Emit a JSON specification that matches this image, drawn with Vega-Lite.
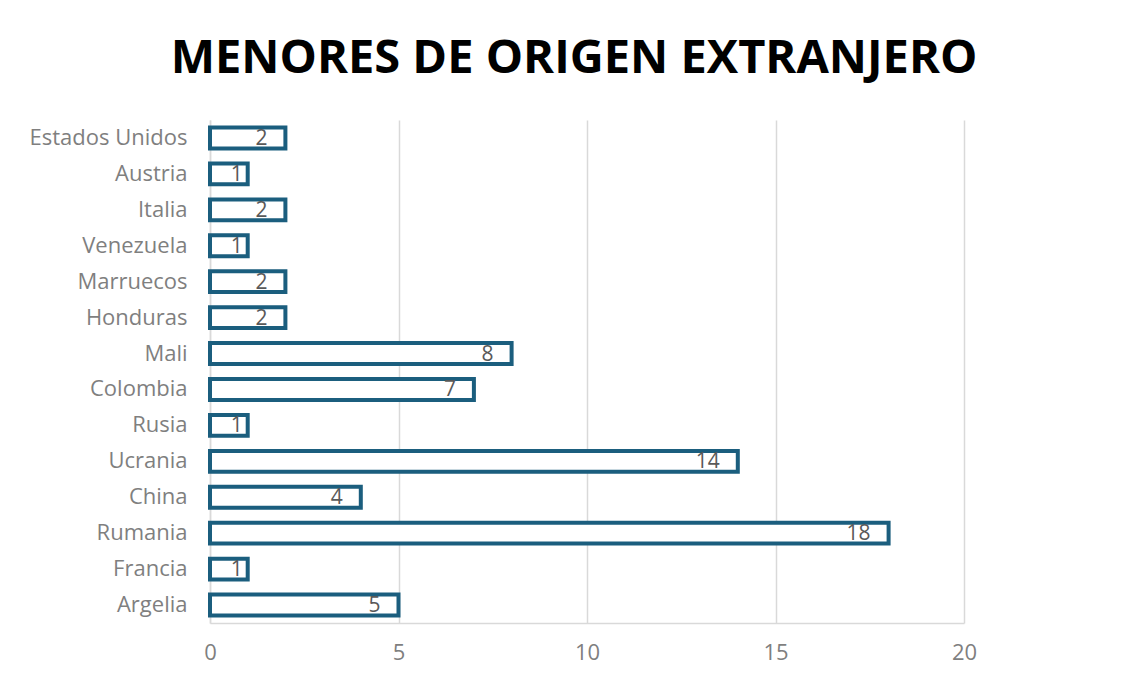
{
  "$schema": "https://vega.github.io/schema/vega-lite/v6.json",
  "width": 754,
  "height": 503,
  "autosize": {"type": "none"},
  "padding": {"left": 210, "top": 120, "right": 167, "bottom": 56},
  "background": "white",
  "title": {
    "text": "MENORES DE ORIGEN EXTRANJERO",
    "font": "Open Sans",
    "fontSize": 47,
    "fontWeight": "bold",
    "color": "#000000",
    "anchor": "middle",
    "dx": -13,
    "baseline": "alphabetic",
    "offset": 0
  },
  "data": {
    "values": [
      {"pais": "Estados Unidos", "n": 2},
      {"pais": "Austria", "n": 1},
      {"pais": "Italia", "n": 2},
      {"pais": "Venezuela", "n": 1},
      {"pais": "Marruecos", "n": 2},
      {"pais": "Honduras", "n": 2},
      {"pais": "Mali", "n": 8},
      {"pais": "Colombia", "n": 7},
      {"pais": "Rusia", "n": 1},
      {"pais": "Ucrania", "n": 14},
      {"pais": "China", "n": 4},
      {"pais": "Rumania", "n": 18},
      {"pais": "Francia", "n": 1},
      {"pais": "Argelia", "n": 5}
    ]
  },
  "encoding": {
    "y": {
      "field": "pais",
      "type": "nominal",
      "sort": null,
      "scale": {"paddingInner": 0.42, "paddingOuter": 0.21},
      "axis": {
        "title": null,
        "ticks": false,
        "domain": true,
        "domainColor": "#D9D9D9",
        "domainWidth": 1.5,
        "labelFont": "Open Sans",
        "labelFontSize": 22,
        "labelColor": "#7F7F7F",
        "labelPadding": 23
      }
    },
    "x": {
      "field": "n",
      "type": "quantitative",
      "scale": {"domain": [0, 20]},
      "axis": {
        "title": null,
        "values": [0, 5, 10, 15, 20],
        "ticks": false,
        "grid": true,
        "gridColor": "#D9D9D9",
        "gridWidth": 1.5,
        "domainColor": "#D9D9D9",
        "domainWidth": 1.5,
        "labelFont": "Open Sans",
        "labelFontSize": 22,
        "labelColor": "#7F7F7F",
        "labelPadding": 19,
        "labelFlush": false
      }
    }
  },
  "layer": [
    {
      "mark": {"type": "bar", "fill": "white", "stroke": "#1B5E7E", "strokeWidth": 4}
    },
    {
      "transform": [{"filter": "datum.n > 1"}],
      "mark": {"type": "text", "align": "right", "baseline": "middle", "dx": -18, "dy": 1, "font": "Open Sans", "fontSize": 21, "color": "#595959"},
      "encoding": {"text": {"field": "n", "type": "quantitative"}}
    },
    {
      "transform": [{"filter": "datum.n == 1"}],
      "mark": {"type": "text", "align": "right", "baseline": "middle", "dx": -5, "dy": 1, "font": "Open Sans", "fontSize": 21, "color": "#595959"},
      "encoding": {"text": {"field": "n", "type": "quantitative"}}
    }
  ],
  "config": {"view": {"stroke": null}}
}
